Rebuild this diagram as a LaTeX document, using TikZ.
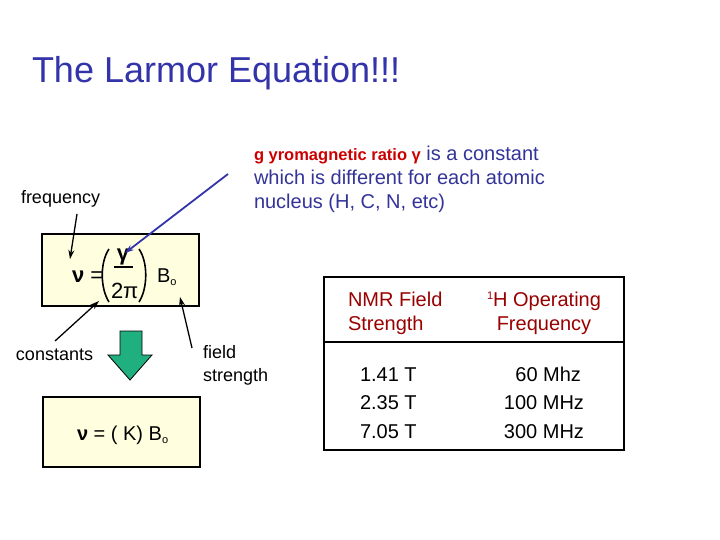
\documentclass[tikz,border=0pt]{standalone}
\usepackage{fontspec}
\setmainfont{Liberation Sans}
\usetikzlibrary{arrows.meta}
\definecolor{titleblue}{RGB}{51,51,170}
\definecolor{textblue}{RGB}{51,51,153}
\definecolor{gyrored}{RGB}{204,0,0}
\definecolor{hdrred}{RGB}{153,0,0}
\definecolor{boxfill}{RGB}{255,255,224}
\definecolor{arrowgreen}{RGB}{32,176,128}
\begin{document}
\begin{tikzpicture}[x=1pt,y=-1pt,
  txt/.style={inner sep=0pt, outer sep=0pt, anchor=base west},
  lbl/.style={txt, font=\fontsize{18pt}{22pt}\selectfont},
  body/.style={txt, font=\fontsize{20pt}{24pt}\selectfont},
  hdr/.style={body, text=hdrred},
  eqbox/.style={draw, fill=boxfill, line width=1.5pt, inner sep=0pt},
  arr/.style={line width=1.3pt, -{Stealth[length=9pt,width=6pt]}},
  barr/.style={arr, draw=titleblue, line width=1.8pt}]
\useasboundingbox (0,0) rectangle (720,540);

% title
\node[txt, text=titleblue, font=\fontsize{36pt}{40pt}\selectfont] (title) at (32,83) {The Larmor Equation!!!};

% gyromagnetic note
\node[body, text=textblue] (gyro1) at (254,161) {{\color{gyrored}\bfseries\fontsize{16.5pt}{20pt}\selectfont g yromagnetic ratio γ} is a constant};
\node[body, text=textblue] (gyro2) at (254,185) {which is different for each atomic};
\node[body, text=textblue] (gyro3) at (254,209) {nucleus (H, C, N, etc)};

% labels
\node[lbl] (freq) at (21,204) {frequency};
\node[lbl] (const) at (16,360) {constants};
\node[lbl] (field1) at (203,358) {field};
\node[lbl] (field2) at (203,381) {strength};

% equation box 1
\node[eqbox, minimum width=157pt, minimum height=72pt] (eq1) at (120.5,270) {};
\node[body, font=\fontsize{22pt}{24pt}\selectfont] (nu1) at (72,282) {\bfseries ν\mdseries\ =};
\node[inner sep=0pt, font=\fontsize{22pt}{24pt}\selectfont\bfseries] (gam) at (123,257) {γ};
\draw[line width=1.6pt] (114,267) -- (133,267);
\node[body, font=\fontsize{22pt}{24pt}\selectfont] (twopi) at (111,298) {2π};
\draw[line width=1.6pt] (109,249) .. controls (100,262) and (100,288) .. (109,302);
\draw[line width=1.6pt] (139,249) .. controls (148,262) and (148,288) .. (139,302);
\node[body] (b1) at (157,282) {B\raisebox{-3pt}{\fontsize{11pt}{11pt}\selectfont o}};

% green arrow
\draw[fill=arrowgreen, line width=0.8pt, line join=miter] (120,331) -- (142,331) -- (142,355) -- (152,355) -- (130,380) -- (108,355) -- (120,355) -- cycle;

% equation box 2
\node[eqbox, minimum width=157pt, minimum height=70pt] (eq2) at (121.5,432) {};
\node[body] (nu2) at (77,440) {\bfseries ν\mdseries\ = ( K) B\raisebox{-3pt}{\fontsize{11pt}{11pt}\selectfont o}};

% connectors
\coordinate (fqs) at (77,214);
\coordinate (fqe) at (70,259);
\draw[arr] (fqs) -- (fqe);
\coordinate (gys) at (228,174);
\coordinate (gye) at (125,253);
\draw[barr] (gys) -- (gye);
\coordinate (cs) at (55,341);
\coordinate (ce) at (99,301);
\draw[arr] (cs) -- (ce);
\coordinate (fs) at (192,348);
\coordinate (fe) at (180,297);
\draw[arr] (fs) -- (fe);

% table
\node[draw, line width=1.5pt, minimum width=300pt, minimum height=173pt, inner sep=0pt] (tbl) at (474,363.5) {};
\draw[line width=1.5pt] (324,342) -- (624,342);
\node[hdr] (h1a) at (348,306) {NMR Field};
\node[hdr] (h1b) at (348,330) {Strength};
\node[hdr, anchor=base] (h2a) at (544,306) {\raisebox{7pt}{\fontsize{11pt}{11pt}\selectfont 1}H Operating};
\node[hdr, anchor=base] (h2b) at (544,330) {Frequency};
\node[body] (v1) at (360,381) {1.41 T};
\node[body] (v2) at (360,409) {2.35 T};
\node[body] (v3) at (360,438) {7.05 T};
\node[body, anchor=base east] (f1) at (581,381) {60 Mhz};
\node[body, anchor=base east] (f2) at (584,409) {100 MHz};
\node[body, anchor=base east] (f3) at (584,438) {300 MHz};
\end{tikzpicture}
\end{document}
